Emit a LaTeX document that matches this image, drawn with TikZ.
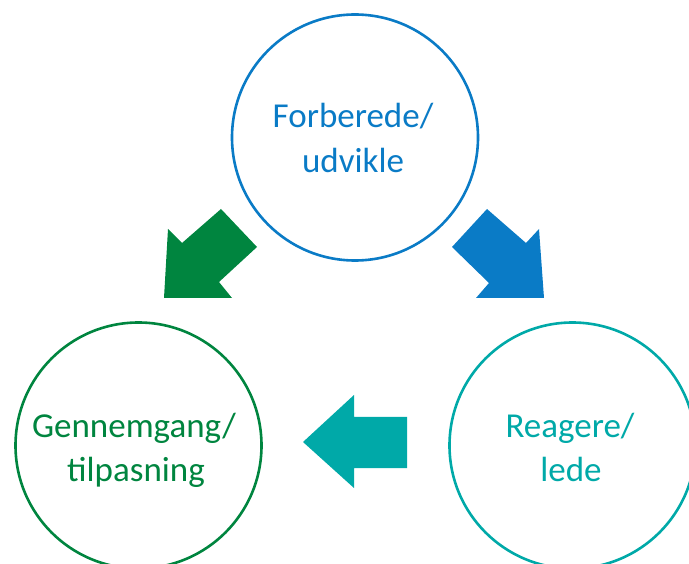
\documentclass[tikz,border=0pt]{standalone}
\usepackage{fontspec}
\setmainfont{Carlito}
\definecolor{cblue}{HTML}{0A7BC6}
\definecolor{cgreen}{HTML}{00853F}
\definecolor{cteal}{HTML}{00A9A8}
\begin{document}
\begin{tikzpicture}[x=1pt,y=-1pt,
  ring/.style={circle, draw=#1, line width=2.6pt, minimum size=246pt, inner sep=0pt},
  lbl/.style={anchor=base, text=#1, font=\fontsize{35}{45}\selectfont, inner sep=0pt},
  blockarrow/.style={fill=#1, draw=none}]
\useasboundingbox (0,0) rectangle (689,564);
\clip (0,0) rectangle (689,564);
\node[ring=cblue] (top) at (355,137.5) {};
\node[ring=cgreen] (left) at (138.5,445.5) {};
\node[ring=cteal] (right) at (572.5,445.5) {};
\node[lbl=cblue] (t1) at (353,128) {Forberede/};
\node[lbl=cblue] (t2) at (353,173) {udvikle};
\node[lbl=cgreen] (l1) at (134,438) {Gennemgang/};
\node[lbl=cgreen] (l2) at (136,482) {tilpasning};
\node[lbl=cteal] (r1) at (570,438) {Reagere/};
\node[lbl=cteal] (r2) at (571,482) {lede};
\fill[blockarrow=cgreen] (221,209) -- (257,247) -- (219,282) -- (232,298) -- (164,298) -- (168,229) -- (182,243) -- cycle;
\fill[blockarrow=cblue] (487,209) -- (452,247) -- (489,283) -- (476,298) -- (544,298) -- (539,229) -- (526,243) -- cycle;
\fill[blockarrow=cteal] (303,442) -- (354,395) -- (354,417) -- (407,417) -- (407,468) -- (354,468) -- (354,488) -- cycle;
\end{tikzpicture}
\end{document}
